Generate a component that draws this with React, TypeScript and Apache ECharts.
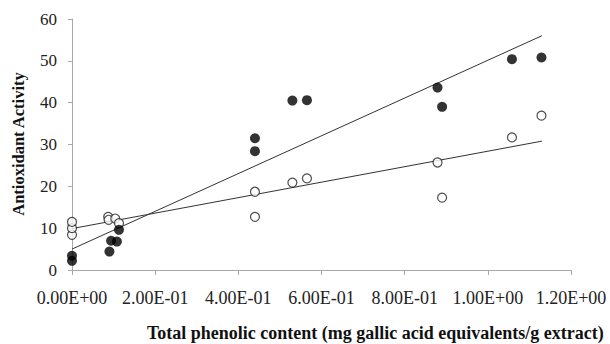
import React, { useEffect, useRef } from "react";
import * as echarts from "echarts";

const xTickLabels = ["0.00E+00", "2.00E-01", "4.00E-01", "6.00E-01", "8.00E-01", "1.00E+00", "1.20E+00"];
const yTickValues = [0, 10, 20, 30, 40, 50, 60];

// Filled circles (series 1)
const filledX = [0, 0, 0.09, 0.094, 0.108, 0.113, 0.44, 0.44, 0.53, 0.565, 0.879, 0.89, 1.058, 1.129];
const filledY = [2.2, 3.4, 4.4, 7.0, 6.8, 9.6, 31.5, 28.4, 40.5, 40.6, 43.6, 39.0, 50.4, 50.8];

// Open circles (series 2)
const openX = [0, 0, 0, 0.087, 0.088, 0.104, 0.113, 0.44, 0.44, 0.53, 0.565, 0.879, 0.89, 1.058, 1.129];
const openY = [8.4, 10.0, 11.5, 12.7, 12.0, 12.3, 11.2, 18.7, 12.7, 20.9, 21.9, 25.7, 17.3, 31.7, 36.9];

// Trend line endpoints
const trendFilledX = [0, 1.13];
const trendFilledY = [5.0, 56.0];
const trendOpenX = [0, 1.13];
const trendOpenY = [9.9, 30.8];

const xTitle = "Total phenolic content (mg gallic acid equivalents/g extract)";
const yTitle = "Antioxidant Activity";

const zip = (xs: number[], ys: number[]) => xs.map((x, i) => [x, ys[i]]);

export default function App() {
  const ref = useRef<HTMLDivElement>(null);
  useEffect(() => {
    if (!ref.current) return;
    const chart = echarts.init(ref.current, null, { renderer: "svg" });
    const font = "Liberation Serif";
    chart.setOption({
      animation: false,
      backgroundColor: "#ffffff",
      grid: { left: 72, right: 39, top: 19, bottom: 74, containLabel: false, outerBoundsMode: "none" },
      xAxis: {
        type: "value",
        min: 0,
        max: 1.2,
        interval: 0.2,
        splitLine: { show: false },
        axisLine: { show: true, lineStyle: { color: "#a8a8a8", width: 1 } },
        axisTick: { show: true, length: 5, lineStyle: { color: "#a8a8a8" } },
        axisLabel: {
          margin: 19,
          fontFamily: font,
          fontSize: 18,
          color: "#222",
          formatter: (v: number) => xTickLabels[Math.round(v / 0.2)] ?? "",
        },
      },
      yAxis: {
        type: "value",
        min: yTickValues[0],
        max: yTickValues[yTickValues.length - 1],
        interval: 10,
        splitLine: { show: false },
        axisLine: { show: true, lineStyle: { color: "#a8a8a8", width: 1 } },
        axisTick: { show: true, length: 4, lineStyle: { color: "#a8a8a8" } },
        axisLabel: { margin: 15, fontFamily: font, fontSize: 17, color: "#222" },
      },
      graphic: [
        {
          type: "text",
          x: 18,
          y: 144,
          rotation: Math.PI / 2,
          style: {
            text: yTitle,
            fontFamily: font,
            fontWeight: "bold",
            fontSize: 16.5,
            fill: "#111",
            align: "center",
            verticalAlign: "middle",
          },
        },
        {
          type: "text",
          x: 147,
          y: 333,
          style: {
            text: xTitle,
            fontFamily: font,
            fontWeight: "bold",
            fontSize: 18,
            fill: "#111",
            align: "left",
            verticalAlign: "middle",
          },
        },
      ],
      series: [
        {
          type: "line",
          data: zip(trendFilledX, trendFilledY),
          symbol: "none",
          lineStyle: { color: "#333", width: 1 },
          z: 1,
        },
        {
          type: "line",
          data: zip(trendOpenX, trendOpenY),
          symbol: "none",
          lineStyle: { color: "#333", width: 1 },
          z: 1,
        },
        {
          type: "scatter",
          data: zip(openX, openY),
          symbol: "circle",
          symbolSize: 9,
          itemStyle: { color: "#ffffff", borderColor: "#222", borderWidth: 1.2 },
          z: 3,
        },
        {
          type: "scatter",
          data: zip(filledX, filledY),
          symbol: "circle",
          symbolSize: 10,
          itemStyle: { color: "#000" },
          z: 4,
        },
      ],
    });
    return () => chart.dispose();
  }, []);
  return (
    <div
      ref={ref}
      style={{ position: "absolute", left: 0, top: 0, width: 610, height: 344 }}
    />
  );
}
